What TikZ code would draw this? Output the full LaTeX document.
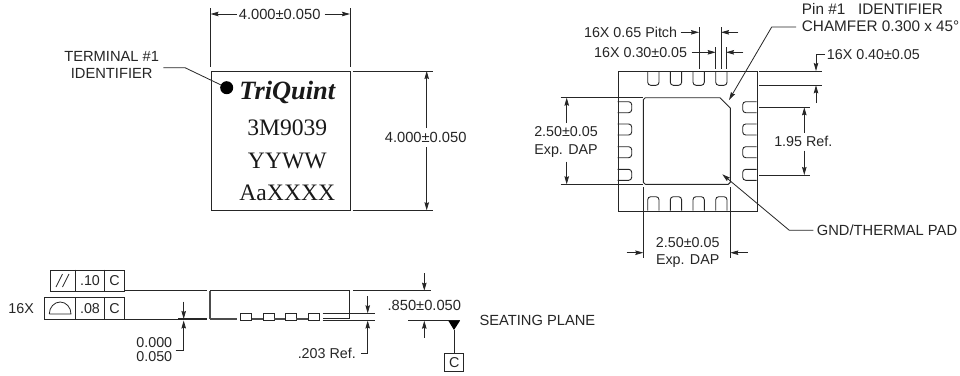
\documentclass[tikz,border=0pt]{standalone}
\usepackage{fontspec}
\setmainfont{Liberation Sans}
\newfontfamily\serifmark{Liberation Serif}
\usetikzlibrary{arrows.meta}
\tikzset{
  ln/.style={draw=black!85,line width=0.9pt},
  dimline/.style={draw=black!85,line width=0.8pt},
  greyline/.style={draw=black!70,line width=1.2pt},
  arr/.style={dimline,-{Stealth[length=8pt,width=4.5pt,inset=1pt]}},
  lbl/.style={inner sep=0pt,font=\fontsize{14.3}{17}\selectfont,text=black!85,align=center},
  lblwide/.style={lbl,font=\fontsize{14.7}{17}\selectfont},
  marktext/.style={inner sep=0pt,font=\serifmark\fontsize{23.6}{24}\selectfont,text=black!90},
  pinshape/.style={ln,rounded corners=3pt},
}
\begin{document}
\begin{tikzpicture}[x=1pt,y=-1pt]
\useasboundingbox[fill=white] (0,0) rectangle (960,375);
% ---- top view
\node[ln,minimum width=139.5pt,minimum height=139.3pt,inner sep=0pt,anchor=north west] (pkg) at (210.5,71) {};
\node[marktext,font=\serifmark\bfseries\itshape\fontsize{26.4}{27}\selectfont] (brand) at (287.3,92.7) {TriQuint};
\node[marktext] (m1) at (287.3,128) {3M9039};
\node[marktext] (m2) at (287.3,160.7) {YYWW};
\node[marktext] (m3) at (287.3,193.3) {AaXXXX};
\node[circle,fill=black,minimum size=13pt,inner sep=0pt] (dot) at (226.7,87.7) {};
\node[lblwide] (term) at (111.7,65) {TERMINAL \#1\\IDENTIFIER};
\coordinate (t0) at (163.3,67.7);
\draw[dimline] (t0) -- (185,67.7) -- (dot);
\node[lblwide] (wtxt) at (279.7,14) {4.000±0.050};
\draw[dimline] (210.5,8) -- (210.5,67);
\draw[dimline] (350,8) -- (350,67);
\coordinate (wl) at (210.5,14); \coordinate (wr) at (350,14);
\draw[arr] (wtxt.west)++(-2,0) -- (wl);
\draw[arr] (wtxt.east)++(4,0) -- (wr);
\draw[dimline] (352.7,71) -- (432.7,71);
\draw[dimline] (352.7,210.3) -- (432.7,210.3);
\node[lblwide] (htxt) at (425.7,137.3) {4.000±0.050};
\coordinate (ht) at (426.7,71); \coordinate (hb) at (426.7,210.3);
\draw[arr] (426.7,128) -- (ht);
\draw[arr] (426.7,147) -- (hb);
% ---- bottom view
\node[ln,minimum width=139pt,minimum height=139.7pt,inner sep=0pt,anchor=north west] (bpkg) at (617.7,71) {};
\draw[ln,line join=round] (645.3,97.7) -- (720,97.7) -- (730.3,108) -- (730.3,182.3) -- (728.3,184.3) -- (645.3,184.3) -- (643.3,182.3) -- (643.3,99.7) -- cycle;
\foreach \a in {647.7,670.3,693,715.7}{
  \draw[pinshape] (\a,71) -- (\a,85.3) -- (\a+11.3,85.3) -- (\a+11.3,71);
  \draw[pinshape] (\a,210.7) -- (\a,196.7) -- (\a+11.3,196.7) -- (\a+11.3,210.7);
}
\foreach \b in {101.7,124,146.7,169.3}{
  \draw[pinshape] (617.7,\b) -- (631.7,\b) -- (631.7,\b+11) -- (617.7,\b+11);
  \draw[pinshape] (756.7,\b) -- (742.7,\b) -- (742.7,\b+11) -- (756.7,\b+11);
}
% identifier leader
\node[lbl,font=\fontsize{15.3}{17}\selectfont,align=left,anchor=west] (pin1) at (801.7,17.7) {Pin \#1\ \ \ IDENTIFIER\\CHAMFER 0.300 x 45°};
\coordinate (p1a) at (796,27); \coordinate (p1t) at (729,100);
\draw[arr] (p1a) -- (771.7,27) -- (p1t);
% pitch
\node[lbl,anchor=east] (pitch) at (677.3,32.3) {16X 0.65 Pitch};
\draw[dimline] (699,27) -- (699,69);
\draw[dimline] (721,27) -- (721,69);
\coordinate (pa) at (699,32.3); \coordinate (pb) at (721,32.3); \coordinate (pc) at (738.3,32.3);
\draw[arr] (pitch.east)++(3.4,0) -- (pa);
\draw[arr] (pc) -- (pb);
% width
\node[lbl,anchor=east] (wid) at (687.3,52.3) {16X 0.30±0.05};
\draw[dimline] (715.7,47) -- (715.7,69);
\draw[dimline] (726,47) -- (726,69);
\coordinate (wa) at (715.7,52.3); \coordinate (wb) at (726,52.3); \coordinate (wc) at (743.3,52.3);
\draw[arr] (wid.east)++(4.4,0) -- (wa);
\draw[arr] (wc) -- (wb);
% length
\node[lbl,anchor=west] (len) at (826.7,54.3) {16X 0.40±0.05};
\draw[dimline] (759.3,71) -- (821.7,71);
\draw[dimline] (759.3,85.3) -- (821.7,85.3);
\coordinate (la) at (816,71); \coordinate (lb) at (816,85.3);
\draw[arr] (len.west)++(-1.7,0) -- (816,54.3) -- (la);
\draw[arr] (816,103) -- (lb);
% 1.95
\node[lbl] (ref) at (803.3,141) {1.95 Ref.};
\draw[dimline] (759,107.3) -- (810,107.3);
\draw[dimline] (759,175) -- (810,175);
\coordinate (ra) at (804.3,107.3); \coordinate (rb) at (804.3,175);
\draw[arr] (804.3,132.7) -- (ra);
\draw[arr] (804.3,150.7) -- (rb);
% left 2.50
\node[lbl] (dapl) at (566,142) {2.50±0.05\\[1.3pt]Exp. DAP};
\draw[dimline] (560.7,97.7) -- (643.3,97.7);
\draw[dimline] (560.7,184.3) -- (643.3,184.3);
\coordinate (da) at (566.7,97.7); \coordinate (db) at (566.7,184.3);
\draw[arr] (566.7,123) -- (da);
\draw[arr] (566.7,161.7) -- (db);
% bottom 2.50
\node[lbl] (dapb) at (687.7,252.8) {2.50±0.05\\Exp. DAP};
\draw[dimline] (643.3,187) -- (643.3,258);
\draw[dimline] (730.3,187) -- (730.3,258);
\coordinate (ea) at (643.3,252.7); \coordinate (eb) at (730.3,252.7);
\draw[arr] (626.7,252.7) -- (ea);
\draw[arr] (747.7,252.7) -- (eb);
% GND
\node[lblwide,anchor=west] (gnd) at (816.7,230.7) {GND/THERMAL PAD};
\coordinate (gt) at (722.3,174.3);
\draw[arr] (gnd.west)++(-3.4,-0.4) -- (789.3,230.3) -- (gt);
% ---- side view
\node[ln,minimum width=74.3pt,minimum height=21pt,inner sep=0pt,anchor=north west] (f1) at (50,269.7) {};
\node[ln,minimum width=80pt,minimum height=21.7pt,inner sep=0pt,anchor=north west] (f2) at (44.3,297.3) {};
\draw[ln] (75.7,269.7) -- (75.7,290.7) (104.7,269.7) -- (104.7,290.7);
\draw[ln] (75.7,297.3) -- (75.7,319) (104.7,297.3) -- (104.7,319);
\draw[dimline] (56,287) -- (62.5,274) (62.5,287) -- (69,274);
\node[lbl] (t10) at (90,280.2) {.10};
\node[lbl] (c1) at (114.5,280.2) {C};
\node[lbl] (t08) at (90,308.2) {.08};
\node[lbl] (c2) at (114.5,308.2) {C};
\draw[dimline] (49.3,314) -- (71,314) arc[start angle=0,end angle=-180,x radius=10.85,y radius=12];
\node[lbl,anchor=east] (x16) at (34,308.3) {16X};
% package profile
\draw[ln] (124.3,290.7) -- (206.7,290.7);
\draw[greyline] (210,319) -- (210,290.7);
\draw[ln] (210,290.7) -- (349.3,290.7) -- (349.3,318.3) -- (322.7,318.3);
\draw[ln] (124.3,319) -- (206.7,319);
\draw[line width=1.4pt,black!85] (178,319) -- (206.7,319);
\draw[greyline] (210,319) -- (236.7,319);
\foreach \c in {240.7,263,285.3,308.3}{
  \draw[ln] (\c,313.3) rectangle (\c+11,320.7);
}
\draw[greyline] (251.7,319) -- (263,319) (274,319) -- (285.3,319) (296.3,319) -- (308.3,319);
\draw[dimline] (322.7,313.3) -- (375,313.3);
\draw[ln] (322.7,320.5) -- (375,320.5);
\draw[ln] (408,320.7) -- (460,320.7);
% 0.000/0.050
\node[lbl] (zero) at (154.3,349.6) {0.000\\[-3pt]0.050};
\coordinate (za) at (183.7,319); \coordinate (zb) at (183.7,320.5);
\draw[arr] (183.7,301.7) -- (za);
\draw[arr] (175.7,350) -- (183.7,350) -- (zb);
% .850
\node[lblwide] (hh) at (424.3,305) {.850±0.050};
\draw[dimline] (353.3,290.7) -- (431,290.7);
\coordinate (ha) at (424.3,290.7); \coordinate (hc) at (424.3,320.7);
\draw[arr] (424.3,273.3) -- (ha);
\draw[arr] (424.3,337.7) -- (hc);
% .203
\node[lbl,anchor=east] (r203) at (356,353) {.203 Ref.};
\coordinate (ja) at (367.7,313.3); \coordinate (jb) at (367.7,320.5);
\draw[arr] (367.7,296) -- (ja);
\draw[arr] (r203.east)++(5,0.3) -- (367.7,353.3) -- (jb);
% datum
\node[ln,minimum width=19pt,minimum height=18pt,inner sep=0pt,anchor=north west] (cbox) at (444.3,352.7) {};
\node[lbl] (c3) at (cbox.center) {C};
\fill[black] (448.3,320.7) -- (460,320.7) -- (454,330) -- cycle;
\coordinate (tri) at (454,330);
\draw[ln] (tri) -- (454,352.7);
\node[lblwide,anchor=west] (seat) at (479.3,320) {SEATING PLANE};
\end{tikzpicture}
\end{document}
